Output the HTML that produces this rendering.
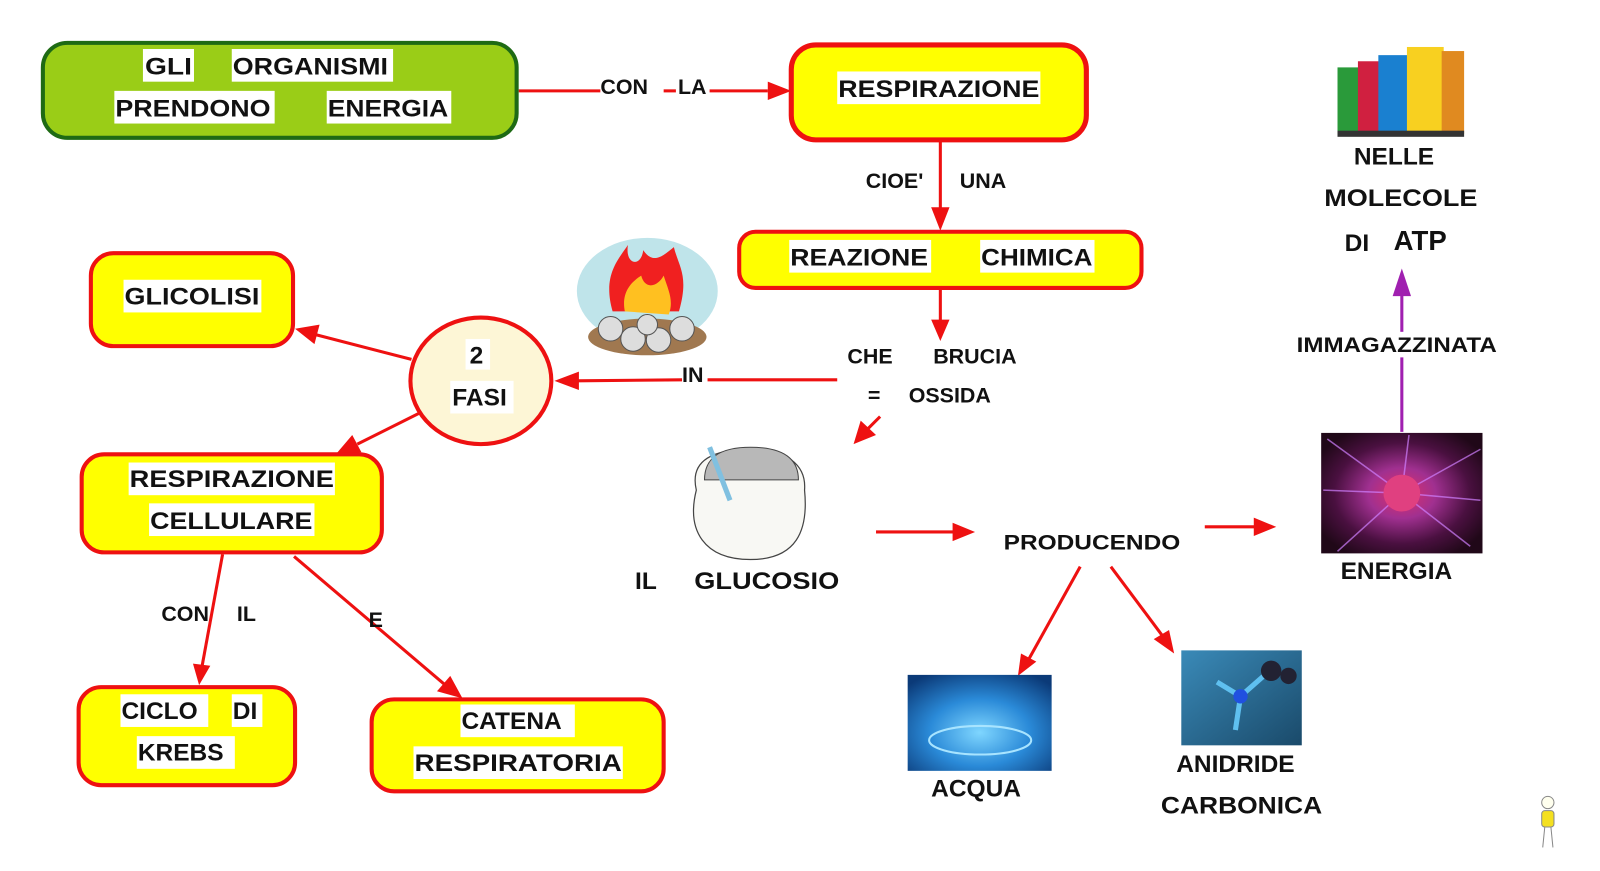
<!DOCTYPE html>
<html><head><meta charset="utf-8"><style>
html,body{margin:0;padding:0;background:#fff;}
svg{display:block;}
text{font-family:"Liberation Sans",Arial,sans-serif;font-weight:bold;fill:#111;}
</style></head><body>
<svg width="1600" height="871" viewBox="0 0 1600 871" xmlns="http://www.w3.org/2000/svg">
<defs>
<radialGradient id="en" cx="50%" cy="50%" r="60%"><stop offset="0" stop-color="#e0306a"/><stop offset="0.35" stop-color="#a03090"/><stop offset="0.7" stop-color="#4a1040"/><stop offset="1" stop-color="#200818"/></radialGradient>
<radialGradient id="wa" cx="50%" cy="60%" r="70%"><stop offset="0" stop-color="#7fd6ff"/><stop offset="0.5" stop-color="#2a8ad8"/><stop offset="1" stop-color="#0b3a78"/></radialGradient>
<linearGradient id="mo" x1="0" y1="0" x2="1" y2="1"><stop offset="0" stop-color="#3a8ab8"/><stop offset="1" stop-color="#1a4a6a"/></linearGradient>
</defs>
<g transform="scale(1.021)">
<g stroke="#ee1111" stroke-width="3" fill="none">
<line x1="508" y1="89" x2="588" y2="89"/><line x1="650" y1="89" x2="662" y2="89"/><line x1="695" y1="89" x2="752" y2="89"/>
<line x1="921" y1="139" x2="921" y2="205"/>
<line x1="921" y1="284" x2="921" y2="315"/>
<line x1="820" y1="372" x2="693" y2="372"/><line x1="668" y1="372" x2="565" y2="373"/>
<line x1="862" y1="408" x2="850" y2="420"/>
<line x1="403" y1="352" x2="310" y2="328"/>
<line x1="410" y1="405" x2="350" y2="435"/>
<line x1="218" y1="543" x2="198" y2="652"/>
<line x1="288" y1="545" x2="435" y2="670"/>
<line x1="858" y1="521" x2="935" y2="521"/>
<line x1="1180" y1="516" x2="1230" y2="516"/>
<line x1="1058" y1="555" x2="1008" y2="645"/>
<line x1="1088" y1="555" x2="1138" y2="622"/>
</g>
<g fill="#ee1111">
<polygon points="752,80 775,89 752,98"/>
<polygon points="912,203 921,226 930,203"/>
<polygon points="912,313 921,334 930,313"/>
<polygon points="567,364 543,373 567,382"/>
<polygon points="843,412 836,435 858,426"/>
<polygon points="313,318 289,322 308,337"/>
<polygon points="345,426 328,446 354,443"/>
<polygon points="189,650 195,671 206,652"/>
<polygon points="428,677 453,684 441,662"/>
<polygon points="933,512 955,521 933,530"/>
<polygon points="1228,507 1250,516 1228,525"/>
<polygon points="1000,640 997,662 1015,648"/>
<polygon points="1130,626 1150,640 1145,617"/>
</g>
<line x1="1373" y1="423" x2="1373" y2="350" stroke="#a020b0" stroke-width="3"/>
<line x1="1373" y1="325" x2="1373" y2="285" stroke="#a020b0" stroke-width="3"/>
<polygon points="1364,290 1373,263 1382,290" fill="#a020b0"/>

<rect x="42" y="42" width="464" height="93" rx="24" fill="#9acd17" stroke="#1e6a14" stroke-width="4"/>
<rect x="775" y="44" width="289" height="93" rx="24" fill="#ffff00" stroke="#ee1111" stroke-width="5"/>
<rect x="724" y="227" width="394" height="55" rx="16" fill="#ffff00" stroke="#ee1111" stroke-width="4"/>
<rect x="89" y="248" width="198" height="91" rx="22" fill="#ffff00" stroke="#ee1111" stroke-width="4"/>
<ellipse cx="471" cy="373" rx="69" ry="62" fill="#fdf6d6" stroke="#ee1111" stroke-width="4"/>
<rect x="80" y="445" width="294" height="96" rx="22" fill="#ffff00" stroke="#ee1111" stroke-width="4"/>
<rect x="77" y="673" width="212" height="96" rx="22" fill="#ffff00" stroke="#ee1111" stroke-width="4"/>
<rect x="364" y="685" width="286" height="90" rx="22" fill="#ffff00" stroke="#ee1111" stroke-width="4"/>

<g fill="#fff">
<rect x="140" y="48" width="50" height="32"/><rect x="227" y="48" width="158" height="32"/>
<rect x="112" y="89" width="157" height="32"/><rect x="320" y="89" width="122" height="32"/>
<rect x="820" y="70" width="199" height="32"/>
<rect x="773" y="235" width="139" height="32"/><rect x="960" y="235" width="112" height="32"/>
<rect x="121" y="274" width="135" height="32"/>
<rect x="456" y="332" width="24" height="30"/><rect x="441" y="373" width="62" height="32"/>
<rect x="126" y="453" width="202" height="32"/><rect x="146" y="493" width="162" height="32"/>
<rect x="118" y="680" width="86" height="32"/><rect x="227" y="680" width="30" height="32"/><rect x="134" y="721" width="96" height="32"/>
<rect x="451" y="690" width="112" height="32"/><rect x="405" y="731" width="205" height="32"/>
</g>

<ellipse cx="634" cy="285" rx="69" ry="52" fill="#bfe4ea"/>
<ellipse cx="634" cy="330" rx="58" ry="18" fill="#a07850"/>
<g fill="#ddd" stroke="#555" stroke-width="1">
<circle cx="598" cy="322" r="12"/><circle cx="620" cy="332" r="12"/><circle cx="645" cy="333" r="12"/><circle cx="668" cy="322" r="12"/><circle cx="634" cy="318" r="10"/>
</g>
<path d="M600,305 C590,270 605,255 615,240 C612,260 628,262 630,245 C640,260 650,250 660,242 C665,262 675,270 665,305 Z" fill="#f02020"/>
<path d="M612,305 C608,285 620,275 628,270 C632,285 645,280 650,270 C655,285 660,295 655,308 Z" fill="#ffc020"/>

<path d="M682,480 C675,450 700,440 735,440 C770,440 790,455 788,480 C792,520 780,548 735,548 C690,548 672,520 682,480 Z" fill="#f8f8f4" stroke="#444" stroke-width="1.2"/>
<path d="M690,470 C690,445 710,438 735,438 C765,438 782,448 782,470 Z" fill="#b8b8b8" stroke="#444"/>
<line x1="695" y1="438" x2="715" y2="490" stroke="#80c0e0" stroke-width="5"/>

<rect x="1294" y="424" width="158" height="118" fill="url(#en)"/>
<g stroke="#d080ff" stroke-width="1.5" opacity="0.7">
<line x1="1373" y1="483" x2="1300" y2="430"/><line x1="1373" y1="483" x2="1450" y2="440"/><line x1="1373" y1="483" x2="1310" y2="540"/><line x1="1373" y1="483" x2="1440" y2="535"/><line x1="1373" y1="483" x2="1296" y2="480"/><line x1="1373" y1="483" x2="1450" y2="490"/><line x1="1373" y1="483" x2="1380" y2="426"/>
</g>
<circle cx="1373" cy="483" r="18" fill="#e04080"/>

<rect x="889" y="661" width="141" height="94" fill="url(#wa)"/>
<ellipse cx="960" cy="725" rx="50" ry="14" fill="none" stroke="#a8e4ff" stroke-width="2"/>
<rect x="1157" y="637" width="118" height="93" fill="url(#mo)"/>
<g stroke="#5fc0f0" stroke-width="5"><line x1="1215" y1="682" x2="1192" y2="668"/><line x1="1215" y1="682" x2="1240" y2="660"/><line x1="1215" y1="682" x2="1210" y2="715"/></g>
<circle cx="1215" cy="682" r="7" fill="#2050e0"/><circle cx="1245" cy="657" r="10" fill="#223"/><circle cx="1262" cy="662" r="8" fill="#223"/>

<g>
<rect x="1310" y="66" width="30" height="65" fill="#2a9a3a"/>
<rect x="1330" y="60" width="30" height="71" fill="#d02040"/>
<rect x="1350" y="54" width="30" height="77" fill="#1a80d0"/>
<rect x="1378" y="46" width="36" height="85" fill="#f8d020"/>
<rect x="1412" y="50" width="22" height="81" fill="#e08a20"/>
<rect x="1310" y="128" width="124" height="6" fill="#333"/>
</g>

<g transform="translate(1516,806)">
<circle cx="0" cy="-20" r="6" fill="#ffe" stroke="#888"/>
<rect x="-6" y="-12" width="12" height="16" rx="3" fill="#f4e020" stroke="#888"/>
<line x1="-3" y1="4" x2="-5" y2="24" stroke="#888"/><line x1="3" y1="4" x2="5" y2="24" stroke="#888"/>
</g>

<g font-size="24">
<text x="142" y="73" textLength="46" lengthAdjust="spacingAndGlyphs">GLI</text><text x="228" y="73" textLength="152" lengthAdjust="spacingAndGlyphs">ORGANISMI</text>
<text x="113" y="114" textLength="152" lengthAdjust="spacingAndGlyphs">PRENDONO</text><text x="321" y="114" textLength="118" lengthAdjust="spacingAndGlyphs">ENERGIA</text>
<text x="821" y="95" textLength="197" lengthAdjust="spacingAndGlyphs">RESPIRAZIONE</text>
<text x="774" y="260" textLength="135" lengthAdjust="spacingAndGlyphs">REAZIONE</text><text x="961" y="260" textLength="109" lengthAdjust="spacingAndGlyphs">CHIMICA</text>
<text x="122" y="298" textLength="132" lengthAdjust="spacingAndGlyphs">GLICOLISI</text>
<text x="460" y="356">2</text><text x="443" y="397">FASI</text>
<text x="127" y="477" textLength="200" lengthAdjust="spacingAndGlyphs">RESPIRAZIONE</text>
<text x="147" y="518" textLength="159" lengthAdjust="spacingAndGlyphs">CELLULARE</text>
<text x="119" y="704">CICLO</text><text x="228" y="704">DI</text><text x="135" y="745">KREBS</text>
<text x="452" y="714">CATENA</text><text x="406" y="755" textLength="203" lengthAdjust="spacingAndGlyphs">RESPIRATORIA</text>
<text x="622" y="577">IL</text><text x="680" y="577" textLength="142" lengthAdjust="spacingAndGlyphs">GLUCOSIO</text>
<text x="912" y="780">ACQUA</text>
<text x="1152" y="756">ANIDRIDE</text><text x="1137" y="797" textLength="158" lengthAdjust="spacingAndGlyphs">CARBONICA</text>
<text x="1313" y="567">ENERGIA</text>
<text x="1326" y="161">NELLE</text><text x="1297" y="202" textLength="150" lengthAdjust="spacingAndGlyphs">MOLECOLE</text>
<text x="1317" y="246">DI</text><text x="1365" y="245" font-size="27">ATP</text>
</g>
<g font-size="21">
<text x="588" y="92">CON</text><text x="664" y="92">LA</text>
<text x="848" y="184">CIOE'</text><text x="940" y="184">UNA</text>
<text x="830" y="356">CHE</text><text x="914" y="356">BRUCIA</text>
<text x="850" y="394">=</text><text x="890" y="394">OSSIDA</text>
<text x="668" y="374">IN</text>
<text x="158" y="608">CON</text><text x="232" y="608">IL</text>
<text x="361" y="614">E</text>
<text x="983" y="538" textLength="173" lengthAdjust="spacingAndGlyphs">PRODUCENDO</text>
<text x="1270" y="345" textLength="196" lengthAdjust="spacingAndGlyphs">IMMAGAZZINATA</text>
</g>
</g>
</svg>
</body></html>
